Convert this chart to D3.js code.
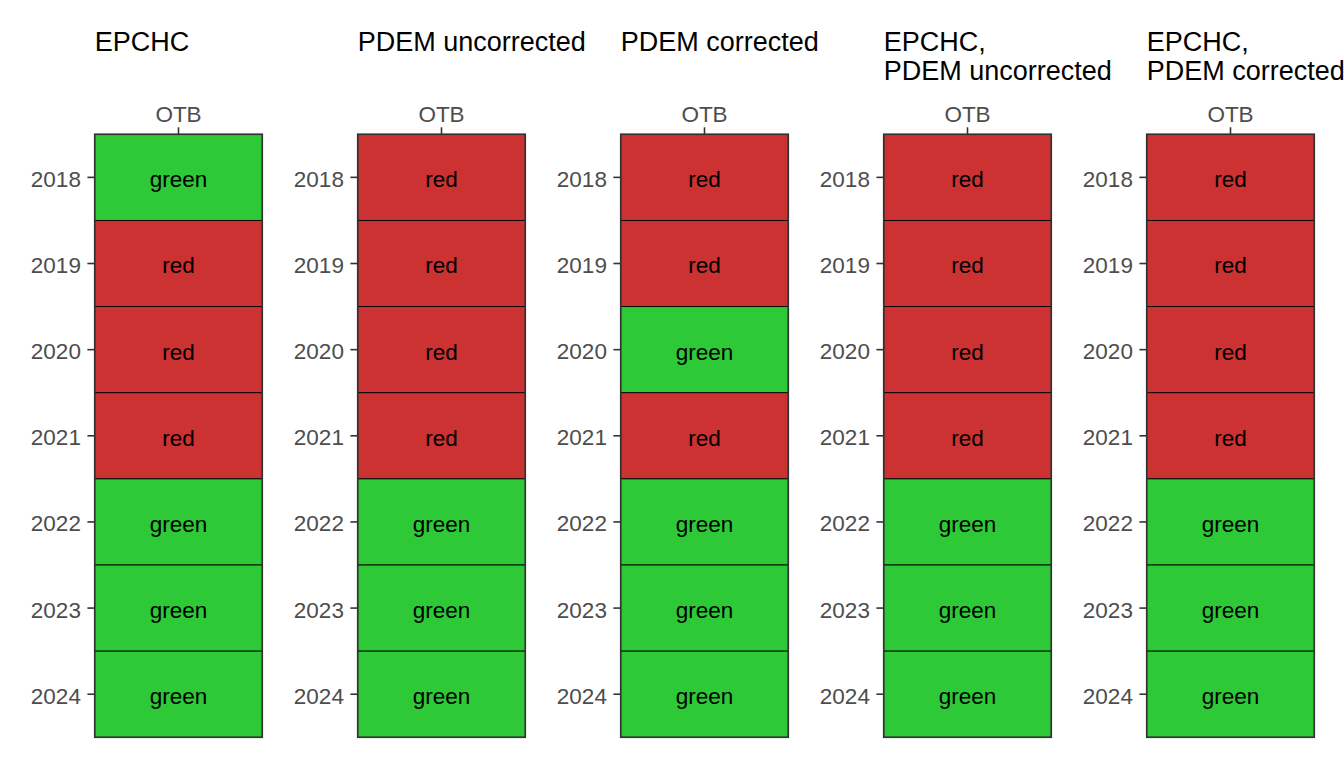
<!DOCTYPE html>
<html>
<head>
<meta charset="utf-8">
<script src="https://cdn.jsdelivr.net/npm/d3@7"></script>
<style>
  body { margin: 0; background: #fff; }
  text { font-family: "Liberation Sans", Arial, sans-serif; }
  .title { font-size: 27px; fill: #000; }
  .tick-label { font-size: 22.5px; fill: #4d4d4d; }
  .cell-label { font-size: 22.5px; fill: #000; }
</style>
</head>
<body>
<div id="chart"></div>
<script>
// data
const years = [2018, 2019, 2020, 2021, 2022, 2023, 2024];
const categories = ["OTB"];
const panelTitles = [
  ["EPCHC"],
  ["PDEM uncorrected"],
  ["PDEM corrected"],
  ["EPCHC,", "PDEM uncorrected"],
  ["EPCHC,", "PDEM corrected"]
];
const epchc = ["green", "red", "red", "red", "green", "green", "green"];
const pdemUncorrected = ["red", "red", "red", "red", "green", "green", "green"];
const pdemCorrected = ["red", "red", "green", "red", "green", "green", "green"];
const epchcPdemUncorrected = ["red", "red", "red", "red", "green", "green", "green"];
const epchcPdemCorrected = ["red", "red", "red", "red", "green", "green", "green"];
const panelValues = [epchc, pdemUncorrected, pdemCorrected, epchcPdemUncorrected, epchcPdemCorrected];

const fillColor = {green: "#2dc937", red: "#cc3232"};

// layout
const W = 1344, H = 768;
const firstLeft = 94.7, step = 263, panelW = 167.6;
const plotTop = 134.3, plotBottom = 737.3;

const svg = d3.select("#chart").append("svg")
  .attr("width", W)
  .attr("height", H);

const y = d3.scaleBand()
  .domain(years)
  .range([plotTop, plotBottom])
  .padding(0);

panelValues.forEach((vals, i) => {
  const left = firstLeft + i * step;
  const x = d3.scaleBand()
    .domain(categories)
    .range([left, left + panelW])
    .padding(0);

  const g = svg.append("g");

  const cells = years.map((yr, j) => ({year: yr, cat: categories[0], value: vals[j]}));

  // tiles
  g.selectAll("rect.tile")
    .data(cells)
    .join("rect")
      .attr("class", "tile")
      .attr("x", d => x(d.cat))
      .attr("y", d => y(d.year))
      .attr("width", x.bandwidth())
      .attr("height", y.bandwidth())
      .attr("fill", d => fillColor[d.value])
      .attr("stroke", "#000")
      .attr("stroke-width", 0.9);

  g.selectAll("text.cell-label")
    .data(cells)
    .join("text")
      .attr("class", "cell-label")
      .attr("x", d => x(d.cat) + x.bandwidth() / 2)
      .attr("y", d => y(d.year) + y.bandwidth() / 2)
      .attr("dy", "0.44em")
      .attr("text-anchor", "middle")
      .text(d => d.value);

  // panel border
  g.append("rect")
    .attr("x", left)
    .attr("y", plotTop)
    .attr("width", panelW)
    .attr("height", plotBottom - plotTop)
    .attr("fill", "none")
    .attr("stroke", "#333")
    .attr("stroke-width", 1.6);

  // y axis
  const yAxis = g.append("g")
    .attr("transform", `translate(${left},0)`)
    .call(d3.axisLeft(y).tickSizeInner(7.3).tickSizeOuter(0).tickPadding(6.5));
  yAxis.select(".domain").remove();
  yAxis.selectAll(".tick line").attr("stroke", "#333").attr("stroke-width", 1.6);
  yAxis.selectAll(".tick text")
    .attr("class", "tick-label")
    .attr("dy", "0.42em")
    .attr("fill", null)
    .attr("font-family", null)
    .attr("font-size", null);

  // x axis on top
  const xAxis = g.append("g")
    .attr("transform", `translate(0,${plotTop})`)
    .call(d3.axisTop(x).tickSizeInner(7).tickSizeOuter(0).tickPadding(5));
  xAxis.select(".domain").remove();
  xAxis.selectAll(".tick line").attr("stroke", "#333").attr("stroke-width", 1.6);
  xAxis.selectAll(".tick text")
    .attr("class", "tick-label")
    .attr("fill", null)
    .attr("font-family", null)
    .attr("font-size", null);

  // title
  const t = g.append("text")
    .attr("class", "title")
    .attr("x", left)
    .attr("y", 51);
  panelTitles[i].forEach((line, k) => {
    t.append("tspan")
      .attr("x", left)
      .attr("dy", k === 0 ? 0 : 28.8)
      .text(line);
  });
});
</script>
</body>
</html>
